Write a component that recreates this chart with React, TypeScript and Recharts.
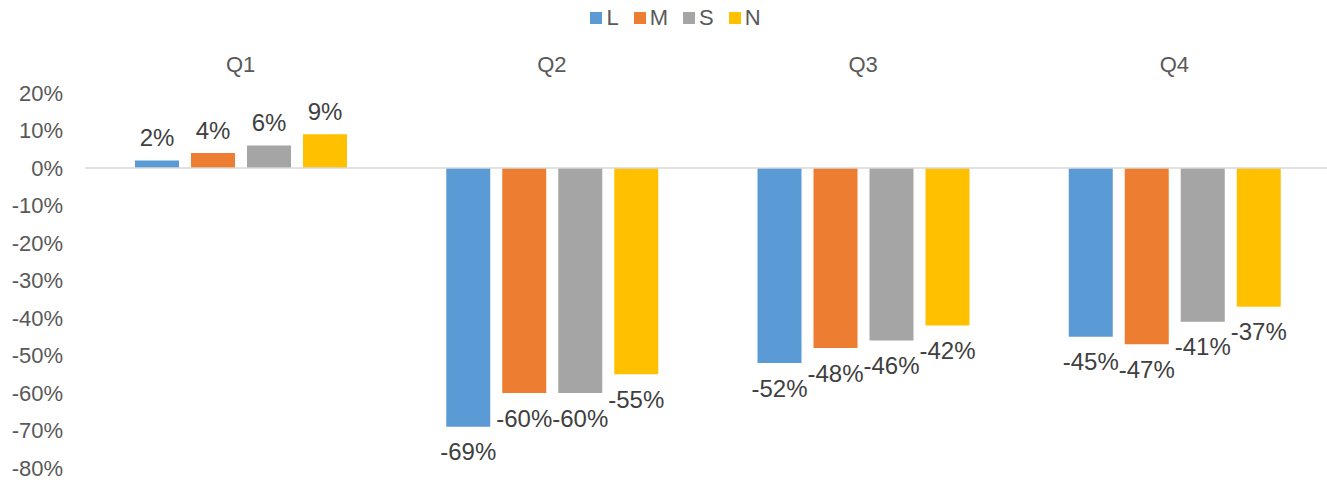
import React from 'react';
import { BarChart, Bar, XAxis, YAxis, Legend, ReferenceLine, LabelList } from 'recharts';

const categories = ['Q1', 'Q2', 'Q3', 'Q4'];
const seriesL = [2, -69, -52, -45];
const seriesM = [4, -60, -48, -47];
const seriesS = [6, -60, -46, -41];
const seriesN = [9, -55, -42, -37];
const yTicks = [20, 10, 0, -10, -20, -30, -40, -50, -60, -70, -80];

const seriesNames = ['L', 'M', 'S', 'N'];
const colors = ['#5B9BD5', '#ED7D31', '#A5A5A5', '#FFC000'];

const data = categories.map((q, i) => ({
  q,
  L: seriesL[i],
  M: seriesM[i],
  S: seriesS[i],
  N: seriesN[i],
}));

const FONT = '"Liberation Sans", Arial, sans-serif';

const renderLabel = (props: any) => {
  const { x, y, width, height, value } = props;
  const cx = Number(x) + Number(width) / 2;
  const y1 = Number(y);
  const y2 = Number(y) + Number(height);
  const neg = Number(value) < 0;
  const endY = neg ? Math.max(y1, y2) : Math.min(y1, y2);
  const ty = neg ? endY + 25 : endY - 23;
  return (
    <text
      x={cx}
      y={ty}
      textAnchor="middle"
      dominantBaseline="central"
      fontSize={24}
      fontFamily={FONT}
      fill="#404040"
    >
      {`${value}%`}
    </text>
  );
};

const renderLegend = () => (
  <div
    style={{
      display: 'flex',
      justifyContent: 'center',
      alignItems: 'center',
      fontFamily: FONT,
      fontSize: 22,
      color: '#595959',
      paddingTop: 5,
      paddingLeft: 36,
    }}
  >
    {seriesNames.map((n, i) => (
      <div key={n} style={{ display: 'flex', alignItems: 'center', marginRight: 15 }}>
        <span style={{ display: 'inline-block', width: 12, height: 12, background: colors[i], marginRight: 4 }} />
        <span>{n}</span>
      </div>
    ))}
  </div>
);

export default function App() {
  return (
    <div style={{ position: 'absolute', left: 0, top: 0, width: 1327, height: 483, overflow: 'hidden', background: '#fff' }}>
      <BarChart
        width={1330}
        height={483}
        data={data}
        margin={{ top: 0, right: 0, left: 0, bottom: 15 }}
        barGap={12}
        barSize={44}
      >
        <Legend verticalAlign="top" height={35} content={renderLegend} />
        <XAxis
          dataKey="q"
          orientation="top"
          axisLine={false}
          tickLine={false}
          tickSize={0}
          tickMargin={21}
          height={58}
          tick={{ fontSize: 22, fill: '#595959', fontFamily: FONT }}
        />
        <YAxis
          domain={[-80, 20]}
          ticks={yTicks}
          interval={0}
          width={85}
          axisLine={false}
          tickLine={false}
          tickSize={0}
          tickMargin={22}
          tickFormatter={(v: number) => `${v}%`}
          tick={{ fontSize: 22, fill: '#595959', fontFamily: FONT }}
        />
        <ReferenceLine y={0} stroke="#D9D9D9" strokeWidth={1.5} />
        {seriesNames.map((n, i) => (
          <Bar key={n} dataKey={n} fill={colors[i]} isAnimationActive={false}>
            <LabelList dataKey={n} content={renderLabel} />
          </Bar>
        ))}
      </BarChart>
    </div>
  );
}
